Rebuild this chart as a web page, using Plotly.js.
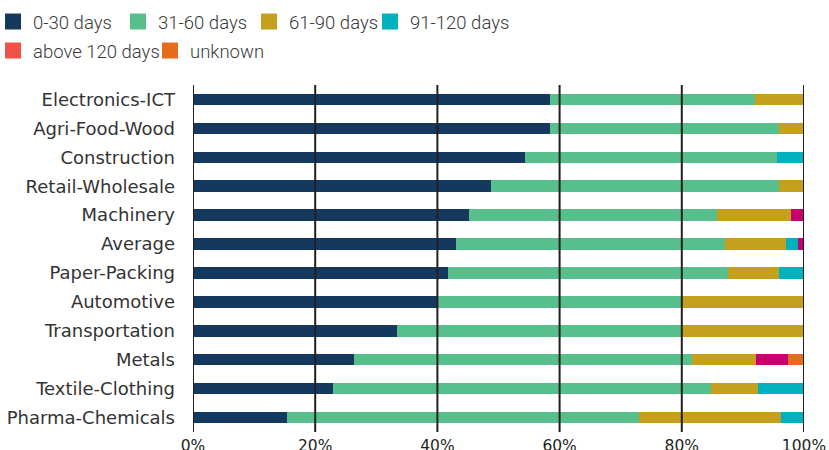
<!DOCTYPE html>
<html>
<head>
<meta charset="utf-8">
<script src="https://cdn.plot.ly/plotly-3.0.1.min.js"></script>
<style>html,body{margin:0;padding:0;background:#fff;}#chart{width:829px;height:450px;}</style>
</head>
<body>
<div id="chart"></div>
<script>
const categories = ["Electronics-ICT","Agri-Food-Wood","Construction","Retail-Wholesale","Machinery","Average","Paper-Packing","Automotive","Transportation","Metals","Textile-Clothing","Pharma-Chemicals"];
const seriesNames = ["0-30 days","31-60 days","61-90 days","91-120 days","above 120 days","unknown"];
const d0_30    = [58.4,58.4,54.4,48.8,45.2,43.0,41.7,40.1,33.4,26.3,22.9,15.4];
const d31_60   = [33.5,37.5,41.2,47.1,40.5,44.0,45.8,39.9,46.6,55.4,61.9,57.6];
const d61_90   = [8.1,4.1,0,4.1,12.1,10.1,8.4,20.0,20.0,10.4,7.7,23.2];
const d91_120  = [0,0,4.4,0,0,1.9,4.1,0,0,0,7.5,3.8];
const dAbove120= [0,0,0,0,2.2,1.0,0,0,0,5.3,0,0];
const dUnknown = [0,0,0,0,0,0,0,0,0,2.6,0,0];
const xTicks = [0,20,40,60,80,100];
const xTickLabels = ["0%","20%","40%","60%","80%","100%"];

const seriesValues = [d0_30,d31_60,d61_90,d91_120,dAbove120,dUnknown];
const barColors = ["#15385F","#57BF8B","#C4A01D","#00B2BD","#C6006F","#E36C1E"];
const legendColors = ["#15385F","#57BF8B","#C4A01D","#00B2BD","#F0524A","#E36C1E"];
// legend item placement (container px: left offset, top)
const legendPos = [[0,3],[125,3],[256,3],[377,3],[0,32],[157,32]];

const W = 829, H = 450;
const traces = [];
seriesValues.forEach((vals,i)=>{
  traces.push({type:"bar",orientation:"h",name:seriesNames[i],y:categories,x:vals,
    marker:{color:barColors[i]},showlegend:false,hoverinfo:"x+y+name"});
});
const legendKey = i => i===0 ? "legend" : "legend"+(i+1);
seriesNames.forEach((n,i)=>{
  traces.push({type:"scatter",mode:"markers",name:n,x:[null],y:[null],
    marker:{symbol:"square",size:16,color:legendColors[i]},
    legend: legendKey(i), showlegend:true,hoverinfo:"skip"});
});

const shapes = xTicks.map(v=>({type:"line",xref:"x",yref:"paper",x0:v,x1:v,y0:0,y1:1,
  layer:"above",line:{color:"#231F20",width:2}}));

const layout = {
  width:W,height:H,
  margin:{l:193,r:25,t:85,b:18},
  barmode:"stack",bargap:0.6,
  paper_bgcolor:"#fff",plot_bgcolor:"#fff",
  font:{family:"DejaVu Sans, sans-serif",color:"#333"},
  xaxis:{range:[0,100],tickvals:xTicks,ticktext:xTickLabels,showgrid:false,zeroline:false,showline:false,
    ticks:"",ticklabelstandoff:2,tickfont:{family:"DejaVu Sans, sans-serif",size:15.5,color:"#231F20"},fixedrange:true},
  yaxis:{type:"category",categoryorder:"array",categoryarray:categories,autorange:"reversed",
    showgrid:false,zeroline:false,showline:false,ticks:"",ticklabelstandoff:17,
    tickfont:{family:"DejaVu Sans, sans-serif",size:18,color:"#333"},fixedrange:true},
  shapes:shapes,
  showlegend:true
};
legendPos.forEach((p,i)=>{
  layout[legendKey(i)] = {orientation:"h",xref:"container",yref:"container",xanchor:"left",yanchor:"top",
    x:p[0]/W, y:1-p[1]/H, indentation:-7,
    font:{family:"Roboto, sans-serif",size:18.5,weight:300,color:"#3a3a3a"},
    itemsizing:"trace",bgcolor:"rgba(0,0,0,0)"};
});
Plotly.newPlot("chart",traces,layout,{displayModeBar:false});
</script>
</body>
</html>
